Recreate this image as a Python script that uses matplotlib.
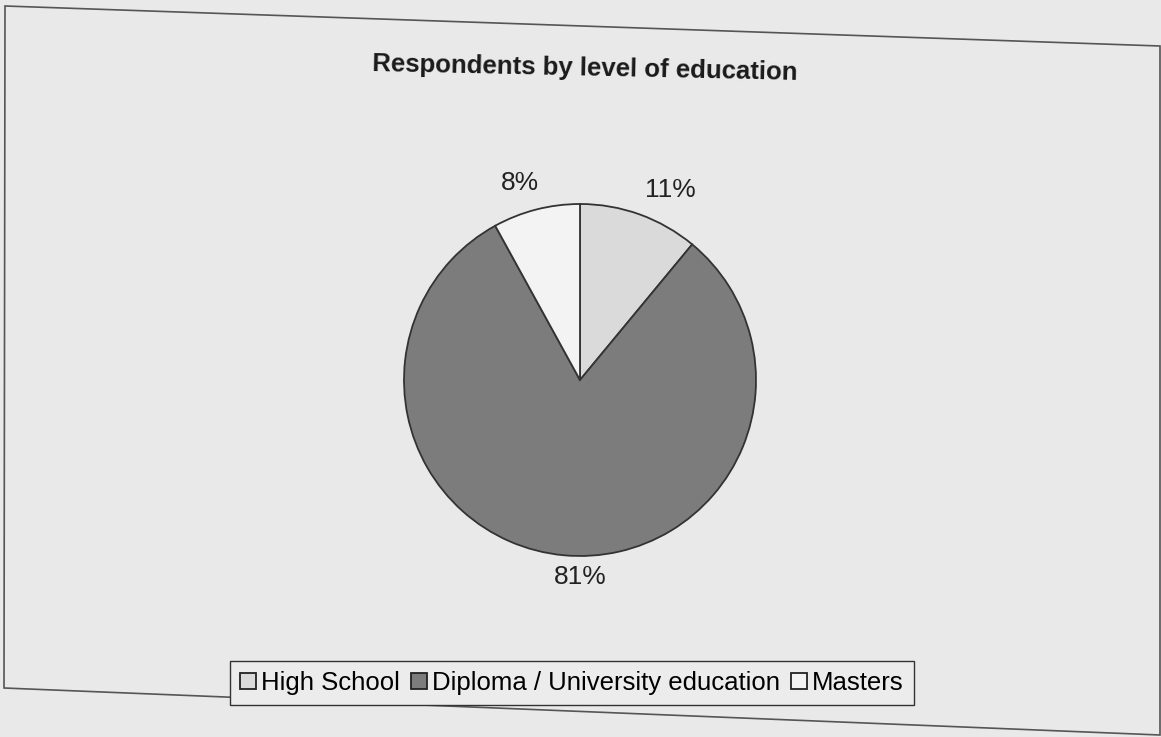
import matplotlib.pyplot as plt
from matplotlib.patches import Polygon

plt.rcParams['font.family'] = ['Liberation Sans', 'DejaVu Sans']

# Data
categories = ["High School", "Diploma / University education", "Masters"]
shares = [11, 81, 8]
colors = ["#dadada", "#7c7c7c", "#f3f3f3"]

W, H = 1161, 737
fig = plt.figure(figsize=(W / 100, H / 100), dpi=100, facecolor="#e9e9e9")

# scanned chart frame (slightly skewed)
frame_px = [(5, 6), (1160, 46), (1160, 735), (4, 688)]
frame = Polygon([(x / W, 1 - y / H) for x, y in frame_px], closed=True,
                transform=fig.transFigure, fill=False, edgecolor="#555555", lw=1.2)
fig.patches.append(frame)

# pie axes, centre ~ (580, 380) px, radius ~ 176 px
cx, cy, r = 580, 380, 176
ax = fig.add_axes([(cx - r) / W, (H - cy - r) / H, 2 * r / W, 2 * r / H])
wedges, texts, autotexts = ax.pie(
    shares, colors=colors, startangle=90, counterclock=False,
    autopct="%d%%", pctdistance=1.17,
    wedgeprops=dict(edgecolor="#333333", linewidth=1.3),
    textprops=dict(fontsize=19, color="#222222"))
ax.set_xlim(-1, 1)
ax.set_ylim(-1, 1)
ax.set_aspect("equal")

# nudge percentage labels to where the scan has them
label_px = [(670, 190), (580, 577), (520, 183)]
for t, (x, y) in zip(autotexts, label_px):
    t.set_position(((x - cx) / r, (cy - y) / r))

fig.text(585 / W, 1 - 68 / H, "Respondents by level of education",
         ha="center", va="center", fontsize=18.5, fontweight="bold",
         color="#1a1a1a", rotation=-1.2)

leg = fig.legend(wedges, categories, loc="center", bbox_to_anchor=(572 / W, 1 - 683 / H),
                 ncol=3, fontsize=18.5, frameon=True, fancybox=False,
                 edgecolor="#333333", facecolor="#ececec", framealpha=1,
                 handlelength=0.6, handleheight=0.6, handletextpad=0.2,
                 columnspacing=0.45, borderpad=0.4)
leg.get_frame().set_linewidth(1.0)
for h in leg.legend_handles:
    h.set_edgecolor("#222222")

plt.savefig("out.png", dpi=100, facecolor=fig.get_facecolor())
